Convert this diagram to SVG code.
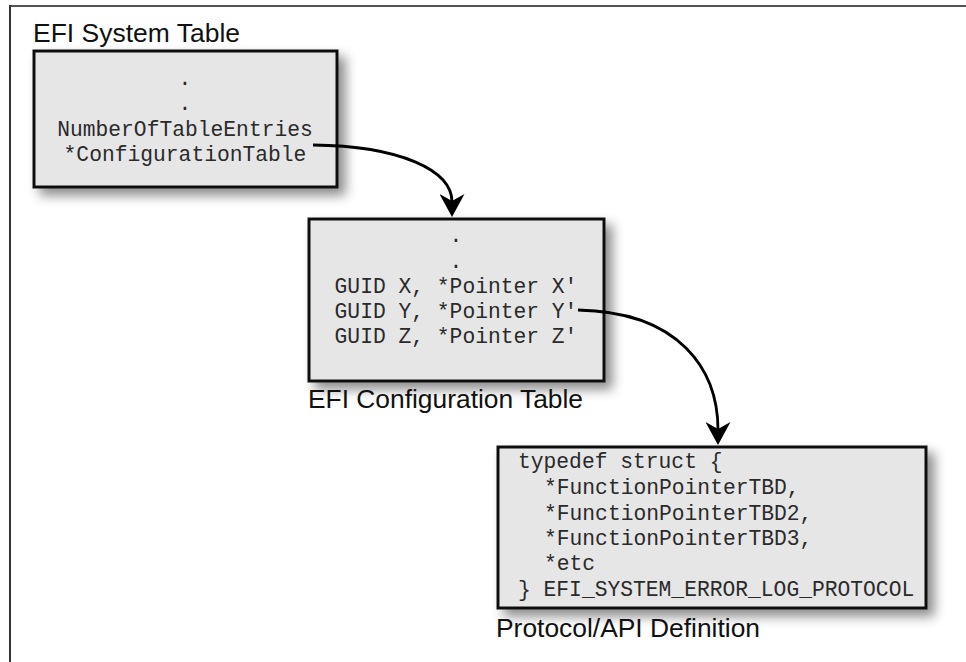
<svg xmlns="http://www.w3.org/2000/svg" width="966" height="662" viewBox="0 0 966 662">
<style>
.box{fill:#e6e6e7;stroke:#111;stroke-width:3;filter:url(#sh)}
.mono{font-family:"Liberation Mono","Courier New",monospace;font-size:21.3px;fill:#2a2a2a}
.c{text-anchor:middle}
.lbl{font-family:"Liberation Sans",Arial,Helvetica,sans-serif;font-size:25px;fill:#111}
.conn{fill:none;stroke:#000;stroke-width:2.8;marker-end:url(#ah)}
</style>
<defs>
<filter id="sh" x="-20%" y="-20%" width="150%" height="160%">
<feDropShadow dx="7" dy="7" stdDeviation="6" flood-color="#000" flood-opacity="0.45"/>
</filter>
<marker id="ah" viewBox="0 0 23 25" refX="8" refY="12.5" markerWidth="23" markerHeight="25" markerUnits="userSpaceOnUse" orient="auto">
<path d="M23,12.5 L0,0 L7,12.5 L0,25 Z" fill="#000"/>
</marker>
</defs>
<rect width="966" height="662" fill="#fff"/>
<g id="frame">
<path d="M10,6 H966" stroke="#555" stroke-width="2" fill="none"/>
<path d="M10,5 V662" stroke="#333" stroke-width="2" fill="none"/>
</g>
<g id="system-table">
<text class="lbl" x="33" y="42" textLength="207" lengthAdjust="spacingAndGlyphs">EFI System Table</text>
<rect class="box" x="34" y="51" width="303" height="136"/>
<text class="mono c" x="185" y="85">.</text>
<text class="mono c" x="185" y="110">.</text>
<text class="mono c" x="185" y="136">NumberOfTableEntries</text>
<text class="mono c" x="185" y="161">*ConfigurationTable</text>
</g>
<g id="config-table">
<rect class="box" x="309" y="219" width="295" height="162"/>
<text class="mono c" x="456" y="242">.</text>
<text class="mono c" x="456" y="267.5">.</text>
<text class="mono c" x="456" y="293">GUID X, *Pointer X'</text>
<text class="mono c" x="456" y="318">GUID Y, *Pointer Y'</text>
<text class="mono c" x="456" y="343">GUID Z, *Pointer Z'</text>
<text class="lbl" x="308" y="408" textLength="275" lengthAdjust="spacingAndGlyphs">EFI Configuration Table</text>
</g>
<g id="protocol">
<rect class="box" x="498" y="447" width="428" height="161"/>
<text class="mono" x="518" y="468">typedef struct {</text>
<text class="mono" x="544" y="494">*FunctionPointerTBD,</text>
<text class="mono" x="544" y="520">*FunctionPointerTBD2,</text>
<text class="mono" x="544" y="545">*FunctionPointerTBD3,</text>
<text class="mono" x="544" y="570">*etc</text>
<text class="mono" x="518" y="596">} EFI_SYSTEM_ERROR_LOG_PROTOCOL</text>
<text class="lbl" x="496" y="637" textLength="264" lengthAdjust="spacingAndGlyphs">Protocol/API Definition</text>
</g>
<g id="connectors">
<path class="conn" d="M313,145 C400,146 452,170 452,202"/>
<path class="conn" d="M578,310 C680,312 718,370 718,430"/>
</g>
</svg>
